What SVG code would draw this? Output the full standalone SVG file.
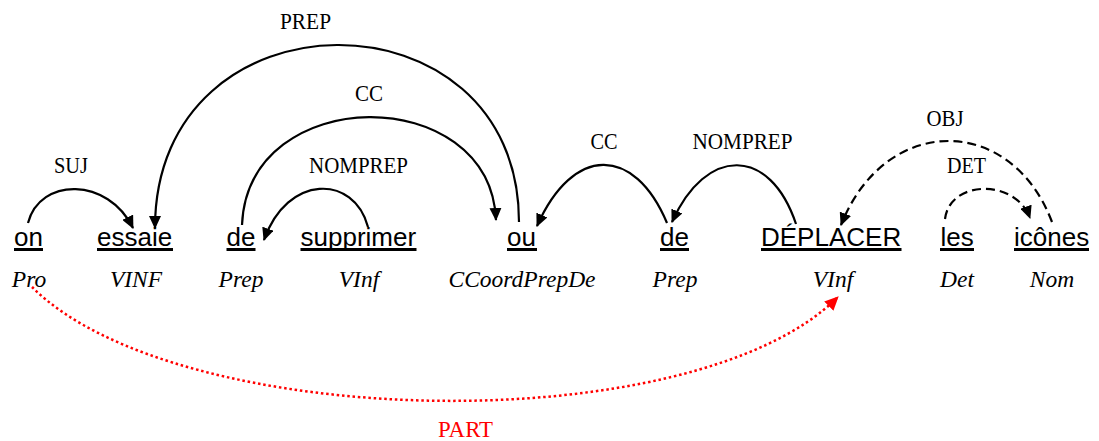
<svg xmlns="http://www.w3.org/2000/svg" width="1099" height="441" viewBox="0 0 1099 441">
  <style>
    .word{font-family:"Liberation Sans",Arial,sans-serif;font-size:26px;fill:#000}
    .tag{font-family:"Liberation Serif","Times New Roman",serif;font-style:italic;font-size:23.5px;fill:#000;text-anchor:middle}
    .lbl{font-family:"Liberation Serif","Times New Roman",serif;font-size:24px;fill:#000;text-anchor:middle}
    .lbl.red{fill:#f00}
    .ul{stroke:#000;stroke-width:3}
    .arc{fill:none;stroke:#000;stroke-width:2.2;marker-end:url(#head)}
    .dash{stroke-dasharray:9 5}
    .part{fill:none;stroke:#f00;stroke-width:2.5;stroke-dasharray:2.5 2.8;marker-end:url(#headRed)}
  </style>
  <defs>
    <marker id="head" markerUnits="userSpaceOnUse" markerWidth="14" markerHeight="12" refX="12" refY="6" orient="auto">
      <path d="M0,0 L13,6 L0,12 Z" fill="#000"/>
    </marker>
    <marker id="headRed" markerUnits="userSpaceOnUse" markerWidth="15" markerHeight="13" refX="13" refY="6.5" orient="auto">
      <path d="M0,0 L14,6.5 L0,13 Z" fill="#f00"/>
    </marker>
  </defs>

  <rect width="1099" height="441" fill="#fff"/>

  <!-- tokens: word, underline, part-of-speech tag -->
  <g id="w-on">
    <text class="word" x="14" y="245.5">on</text>
    <line class="ul" x1="14" y1="249.5" x2="43" y2="249.5"/>
    <text class="tag" x="29" y="287">Pro</text>
  </g>
  <g id="w-essaie">
    <text class="word" x="97" y="245.5">essaie</text>
    <line class="ul" x1="97" y1="249.5" x2="173" y2="249.5"/>
    <text class="tag" x="136" y="287">VINF</text>
  </g>
  <g id="w-de1">
    <text class="word" x="226.5" y="245.5">de</text>
    <line class="ul" x1="226.5" y1="249.5" x2="255.5" y2="249.5"/>
    <text class="tag" x="241" y="287">Prep</text>
  </g>
  <g id="w-supprimer">
    <text class="word" x="300.5" y="245.5">supprimer</text>
    <line class="ul" x1="300.5" y1="249.5" x2="416.5" y2="249.5"/>
    <text class="tag" x="359" y="287">VInf</text>
  </g>
  <g id="w-ou">
    <text class="word" x="507" y="245.5">ou</text>
    <line class="ul" x1="507" y1="249.5" x2="537" y2="249.5"/>
    <text class="tag" x="522" y="287">CCoordPrepDe</text>
  </g>
  <g id="w-de2">
    <text class="word" x="660" y="245.5">de</text>
    <line class="ul" x1="660" y1="249.5" x2="689" y2="249.5"/>
    <text class="tag" x="675" y="287">Prep</text>
  </g>
  <g id="w-deplacer">
    <text class="word" x="761" y="245.5">DÉPLACER</text>
    <line class="ul" x1="761" y1="249.5" x2="901.5" y2="249.5"/>
    <text class="tag" x="833" y="287">VInf</text>
  </g>
  <g id="w-les">
    <text class="word" x="940.5" y="245.5">les</text>
    <line class="ul" x1="940" y1="249.5" x2="974" y2="249.5"/>
    <text class="tag" x="957" y="287">Det</text>
  </g>
  <g id="w-icones">
    <text class="word" x="1014" y="245.5">icônes</text>
    <line class="ul" x1="1014" y1="249.5" x2="1089" y2="249.5"/>
    <text class="tag" x="1052" y="287">Nom</text>
  </g>

  <!-- dependency arcs with their relation labels -->
  <g id="connectors">
    <g id="e-suj">
      <path class="arc" d="M28,223 C40,177 108,177 133,228"/>
      <text class="lbl" x="71" y="173" textLength="34" lengthAdjust="spacingAndGlyphs">SUJ</text>
    </g>
    <g id="e-prep">
      <path class="arc" d="M519,222 C519,-15 155,-15 155,228"/>
      <text class="lbl" x="305.5" y="29" textLength="51" lengthAdjust="spacingAndGlyphs">PREP</text>
    </g>
    <g id="e-cc1">
      <path class="arc" d="M242,225 C248,82 490,82 496,220"/>
      <text class="lbl" x="369" y="101" textLength="28" lengthAdjust="spacingAndGlyphs">CC</text>
    </g>
    <g id="e-nomprep1">
      <path class="arc" d="M368,227 C354,174 287,174 264,240"/>
      <text class="lbl" x="358.5" y="173" textLength="99" lengthAdjust="spacingAndGlyphs">NOMPREP</text>
    </g>
    <g id="e-cc2">
      <path class="arc" d="M667,223 C634,145 573,145 537,226"/>
      <text class="lbl" x="604" y="149" textLength="27" lengthAdjust="spacingAndGlyphs">CC</text>
    </g>
    <g id="e-nomprep2">
      <path class="arc" d="M796,224 C770,146 706,146 672,222"/>
      <text class="lbl" x="742.5" y="149" textLength="100" lengthAdjust="spacingAndGlyphs">NOMPREP</text>
    </g>
    <g id="e-obj">
      <path class="arc dash" d="M1052,222 C1011,113.5 885,113.5 841,225"/>
      <text class="lbl" x="945" y="126" textLength="37" lengthAdjust="spacingAndGlyphs">OBJ</text>
    </g>
    <g id="e-det">
      <path class="arc dash" d="M945,219 C950,179 1016,179 1030,218"/>
      <text class="lbl" x="966.5" y="173" textLength="39" lengthAdjust="spacingAndGlyphs">DET</text>
    </g>
    <g id="e-part">
      <path class="part" d="M32,287 C177,432 693,442 838,297"/>
      <text class="lbl red" x="465.5" y="437" textLength="55" lengthAdjust="spacingAndGlyphs">PART</text>
    </g>
  </g>
</svg>
